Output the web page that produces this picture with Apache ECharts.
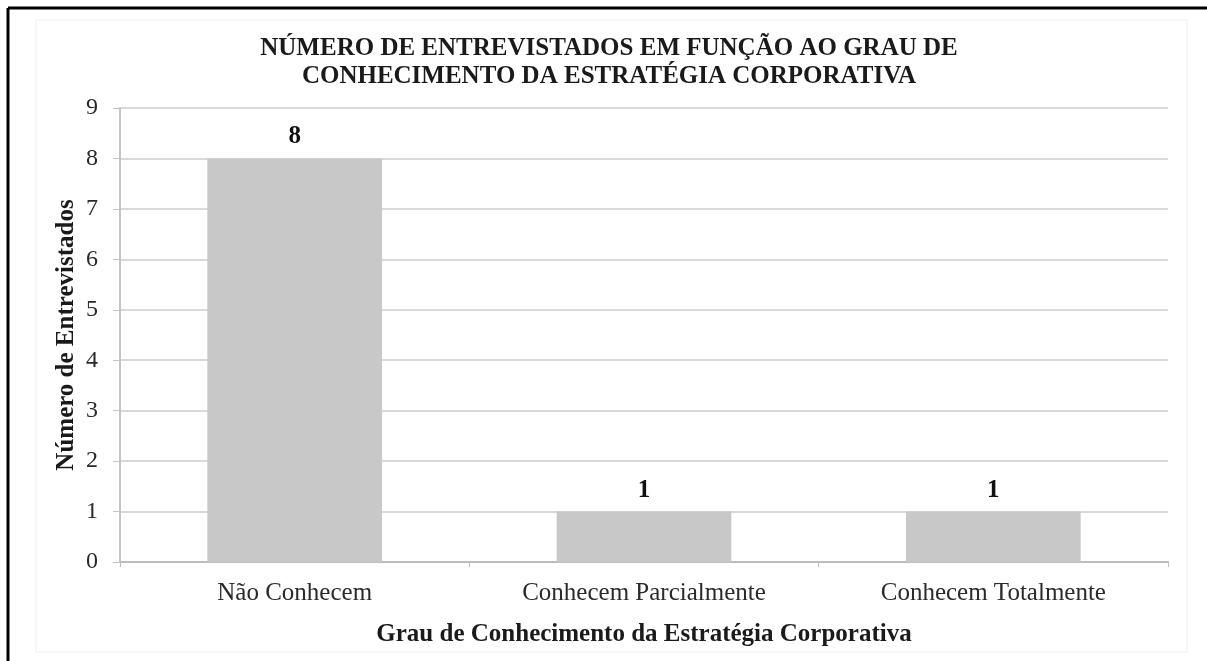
<!DOCTYPE html>
<html>
<head>
<meta charset="utf-8">
<script src="https://cdn.jsdelivr.net/npm/echarts@6/dist/echarts.min.js"></script>
<style>
  html, body { margin: 0; padding: 0; background: #ffffff; }
  #chart { width: 1207px; height: 661px; }
</style>
</head>
<body>
<div id="chart"></div>
<script>
// Respondents by level of knowledge of the corporate strategy
const categories = ['Não Conhecem', 'Conhecem Parcialmente', 'Conhecem Totalmente'];
const respondents = [8, 1, 1];
const yTicks = [0, 1, 2, 3, 4, 5, 6, 7, 8, 9];

const titleText = 'NÚMERO DE ENTREVISTADOS EM FUNÇÃO AO GRAU DE\nCONHECIMENTO DA ESTRATÉGIA CORPORATIVA';
const xName = 'Grau de Conhecimento da Estratégia Corporativa';
const yName = 'Número de Entrevistados';

const serif = '"Liberation Serif", "Times New Roman", serif';

const chart = echarts.init(document.getElementById('chart'), null, { renderer: 'canvas' });

chart.setOption({
  backgroundColor: '#ffffff',
  animation: false,
  textStyle: { fontFamily: serif },
  title: {
    text: titleText,
    left: 604,
    textAlign: 'center',
    top: 30,
    textStyle: {
      fontFamily: serif,
      fontSize: 25,
      fontWeight: 'bold',
      color: '#1a1a1a',
      lineHeight: 28
    }
  },
  graphic: [
    // faint chart-area frame
    {
      type: 'rect',
      shape: { x: 36, y: 20, width: 1151, height: 632 },
      style: { fill: 'none', stroke: '#f0f0f0', lineWidth: 1 },
      silent: true
    },
    // page frame lines
    {
      type: 'line',
      shape: { x1: 8, y1: 8, x2: 1207, y2: 8 },
      style: { stroke: '#000000', lineWidth: 3 },
      silent: true
    },
    {
      type: 'line',
      shape: { x1: 8, y1: 8, x2: 8, y2: 661 },
      style: { stroke: '#000000', lineWidth: 3 },
      silent: true
    }
  ],
  grid: {
    left: 120,
    right: 39,
    top: 108,
    bottom: 99,
    containLabel: false
  },
  xAxis: {
    type: 'category',
    data: categories,
    name: xName,
    nameLocation: 'middle',
    nameGap: 60,
    nameMoveOverlap: false,
    nameTextStyle: {
      fontFamily: serif,
      fontSize: 25,
      fontWeight: 'bold',
      color: '#1a1a1a'
    },
    axisLine: { show: true, lineStyle: { color: '#bdbdbd', width: 2 } },
    axisTick: { show: true, alignWithLabel: false, length: 5, lineStyle: { color: '#bdbdbd' } },
    axisLabel: {
      fontFamily: serif,
      fontSize: 25,
      color: '#2a2a2a',
      margin: 19
    }
  },
  yAxis: {
    type: 'value',
    min: 0,
    max: 9,
    interval: 1,
    name: yName,
    nameLocation: 'middle',
    nameGap: 41,
    nameMoveOverlap: false,
    nameRotate: 90,
    nameTextStyle: {
      fontFamily: serif,
      fontSize: 25,
      fontWeight: 'bold',
      color: '#1a1a1a'
    },
    axisLine: { show: true, lineStyle: { color: '#c4c4c4', width: 2 } },
    axisTick: { show: true, length: 7, lineStyle: { color: '#c4c4c4' } },
    axisLabel: {
      fontFamily: serif,
      fontSize: 24,
      color: '#2a2a2a',
      margin: 22,
      formatter: function (v) { return yTicks.indexOf(v) >= 0 ? String(v) : ''; }
    },
    splitLine: { show: true, lineStyle: { color: '#d9d9d9', width: 2 } }
  },
  series: [
    {
      type: 'bar',
      data: respondents,
      barCategoryGap: '50%',
      itemStyle: { color: '#c8c8c8' },
      label: {
        show: true,
        position: 'top',
        distance: 9,
        fontFamily: serif,
        fontSize: 25,
        fontWeight: 'bold',
        color: '#111111'
      }
    }
  ]
});
</script>
</body>
</html>
